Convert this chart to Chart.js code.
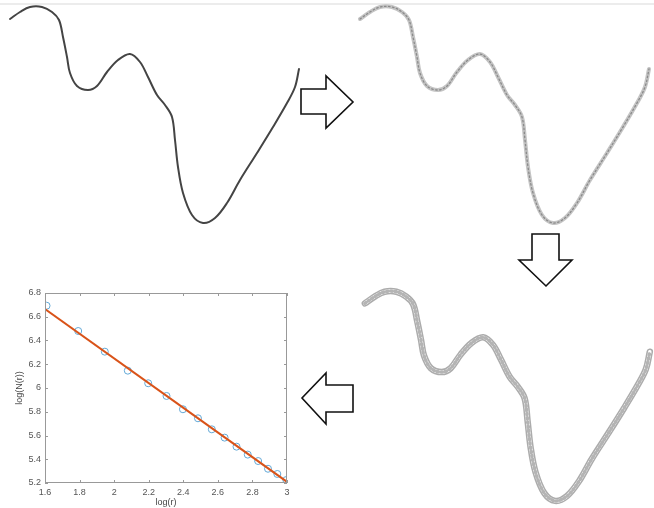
<!DOCTYPE html>
<html>
<head>
<meta charset="utf-8">
<script src="https://cdn.jsdelivr.net/npm/chart.js@4.4.1/dist/chart.umd.min.js"></script>
<style>
body{margin:0;background:#fff;}
#wrap{position:relative;width:654px;height:508px;overflow:hidden;}
#topline{position:absolute;left:0;top:3px;width:654px;height:2px;background:#ececec;}
#curves{position:absolute;left:0;top:0;}
#fit{position:absolute;left:0;top:280px;}
</style>
</head>
<body>
<div id="wrap">
<div id="topline"></div>
<canvas id="curves" width="654" height="508"></canvas>
<canvas id="fit" width="300" height="228"></canvas>
</div>
<script>
// traced profile of the curve (same shape in all three steps)
var curveX = [10,20,30,42,52,59,63,67,70,77,88,97,107,118,130,140,148,157,165,172,175,178,183,192,203,215,227,240,257,273,287,295,299];
var curveY = [19,12,7,7,12,20,37,57,73,86,90,86,72,60,54,62,77,95,105,117,140,167,193,215,223,218,203,180,153,127,103,87,69];

// box counting result
var logR = [1.609,1.792,1.946,2.079,2.197,2.303,2.398,2.485,2.565,2.639,2.708,2.773,2.833,2.890,2.944,2.996];
var logN = [6.693,6.480,6.306,6.146,6.040,5.933,5.821,5.745,5.652,5.582,5.506,5.439,5.385,5.320,5.276,5.225];
var fitX = [1.6, 3];
var fitY = [6.665, 5.21];
var xTicks = [1.6,1.8,2,2.2,2.4,2.6,2.8,3];
var yTicks = [5.2,5.4,5.6,5.8,6,6.2,6.4,6.6,6.8];

var W = 654, H = 508;
Chart.defaults.font.family = '"Liberation Sans", Arial, sans-serif';
Chart.defaults.font.size = 9;

function pts(xs, ys) {
    return xs.map(function(v, i){ return {x: v, y: ys[i]}; });
}

// hidden axes that put one copy of the curve at a spot on the page
function place(id, left, top, kx, ky, scales) {
    scales['x' + id] = {type:'linear', display:false, min:-left/kx, max:(W-left)/kx};
    scales['y' + id] = {type:'linear', display:false, reverse:true, min:-top/ky, max:(H-top)/ky};
}
var curveScales = {};
place('A', 0, 0, 1, 1, curveScales);
place('B', 350, 0, 1, 1, curveScales);
place('C', 355, 285, 0.986, 0.968, curveScales);

function curve(id, color, width, order, dash) {
    return {
        type:'scatter', showLine:true, data: pts(curveX, curveY),
        xAxisID:'x' + id, yAxisID:'y' + id,
        borderColor: color, borderWidth: width, borderDash: dash || [],
        borderCapStyle:'round', borderJoinStyle:'round',
        tension:0.35, pointRadius:0, clip:false, order: order
    };
}

function arrow(ctx, p) {
    ctx.beginPath();
    ctx.moveTo(p[0][0], p[0][1]);
    for (var i = 1; i < p.length; i++) ctx.lineTo(p[i][0], p[i][1]);
    ctx.closePath();
    ctx.fillStyle = '#fff';
    ctx.fill();
    ctx.stroke();
}

var arrowsPlugin = {
    id:'arrows',
    afterDraw: function(chart) {
        var ctx = chart.ctx;
        ctx.save();
        ctx.strokeStyle = '#111';
        ctx.lineWidth = 1.6;
        ctx.lineJoin = 'miter';
        arrow(ctx, [[301,89],[326,89],[326,76],[353,102],[326,128],[326,114],[301,114]]);
        arrow(ctx, [[532,234],[559,234],[559,260],[572,260],[546,286],[519,260],[532,260]]);
        arrow(ctx, [[353,385],[326,385],[326,373],[302,398],[326,424],[326,412],[353,412]]);
        ctx.restore();
    }
};

new Chart(document.getElementById('curves'), {
    type:'scatter',
    data: {
        datasets: [
            curve('A', '#444444', 2, 1),
            curve('B', '#c4c4c4', 4, 2),
            curve('B', '#8a8a8a', 1.3, 1, [1.5,2.5]),
            curve('C', '#acacac', 6.5, 3),
            curve('C', '#ffffff', 3.5, 2),
            curve('C', '#b4b4b4', 3.5, 1, [1.2,3])
        ]
    },
    options: {
        responsive:false, animation:false,
        layout:{padding:0},
        plugins:{legend:{display:false}, tooltip:{enabled:false}},
        scales: curveScales
    },
    plugins:[arrowsPlugin]
});

// frame and inward tick marks on all four sides
var framePlugin = {
    id:'frame',
    afterDraw: function(chart) {
        var ctx = chart.ctx, a = chart.chartArea, sx = chart.scales.x, sy = chart.scales.y;
        ctx.save();
        ctx.strokeStyle = '#999';
        ctx.lineWidth = 1;
        ctx.strokeRect(a.left + 0.5, a.top + 0.5, a.right - a.left - 1, a.bottom - a.top - 1);
        ctx.beginPath();
        sx.ticks.forEach(function(t){
            var px = Math.round(sx.getPixelForValue(t.value)) + 0.5;
            ctx.moveTo(px, a.bottom); ctx.lineTo(px, a.bottom - 3);
            ctx.moveTo(px, a.top); ctx.lineTo(px, a.top + 3);
        });
        sy.ticks.forEach(function(t){
            var py = Math.round(sy.getPixelForValue(t.value)) + 0.5;
            ctx.moveTo(a.left, py); ctx.lineTo(a.left + 3, py);
            ctx.moveTo(a.right, py); ctx.lineTo(a.right - 3, py);
        });
        ctx.stroke();
        ctx.restore();
    }
};

function label(v) { return String(Number(v.toFixed(1))); }

new Chart(document.getElementById('fit'), {
    type:'scatter',
    data: {
        datasets: [
            {
                data: pts(fitX, fitY), showLine:true,
                borderColor:'#d95319', borderWidth:2, pointRadius:0, order:0
            },
            {
                data: pts(logR, logN),
                pointStyle:'circle', pointRadius:3.5, pointBorderWidth:1,
                pointBorderColor:'#62a8d6', pointBackgroundColor:'rgba(0,0,0,0)',
                borderColor:'#62a8d6', order:1
            }
        ]
    },
    options: {
        responsive:false, animation:false,
        layout:{padding:{top:13, right:13, left:0, bottom:0}},
        plugins:{legend:{display:false}, tooltip:{enabled:false}},
        scales: {
            x: {
                type:'linear', min:1.6, max:3,
                afterBuildTicks: function(s){ s.ticks = xTicks.map(function(v){ return {value:v}; }); },
                afterFit: function(s){ s.height = 25; },
                grid:{display:false, drawTicks:false}, border:{display:false},
                ticks:{padding:4, color:'#555', maxRotation:0, callback: label},
                title:{display:true, text:'log(r)', color:'#444', padding:{top:0, bottom:0}}
            },
            y: {
                type:'linear', min:5.2, max:6.8,
                afterBuildTicks: function(s){ s.ticks = yTicks.map(function(v){ return {value:v}; }); },
                afterFit: function(s){ s.width = 45; },
                grid:{display:false, drawTicks:false}, border:{display:false},
                ticks:{padding:4, color:'#555', callback: label},
                title:{display:true, text:'log(N(r))', color:'#444', padding:{top:14, bottom:0}}
            }
        }
    },
    plugins:[framePlugin]
});
</script>
</body>
</html>
